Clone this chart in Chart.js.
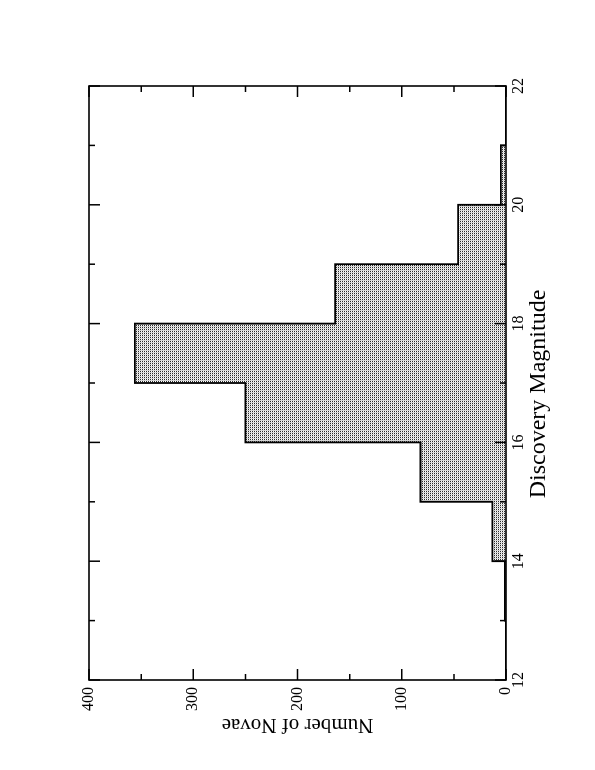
<!DOCTYPE html>
<html>
<head>
<meta charset="utf-8">
<script src="https://cdn.jsdelivr.net/npm/chart.js@4.4.1/dist/chart.umd.min.js"></script>
<style>
html, body { margin: 0; padding: 0; background: #fff; overflow: hidden; width: 595px; height: 770px; }
#giro { position: absolute; left: 0; top: 0; width: 770px; height: 595px; transform-origin: 0 0; transform: translate(0, 770px) rotate(-90deg); }
</style>
</head>
<body>
<div id="giro"><canvas id="grafico" width="770" height="595"></canvas></div>
<script>
// histograma: borde inferior de cada intervalo de magnitud y numero de novas
const magnitudes = [12, 13, 14, 15, 16, 17, 18, 19, 20, 21];
const novas = [0, 1, 13, 82, 250, 356, 164, 46, 5, 0];
const magFinal = 22;
const ticksMag = [12, 14, 16, 18, 20, 22];
const ticksNovas = [0, 100, 200, 300, 400];
const marcasMenoresMag = [13, 15, 17, 19, 21];
const marcasMenoresNovas = [50, 150, 250, 350];
const tituloX = 'Discovery Magnitude';
const tituloY = 'Number of Novae';

const fuente = "'Liberation Serif', 'Times New Roman', serif";

function tramaPuntos() {
    let c = document.createElement('canvas'); c.width = 2; c.height = 4;
    let g = c.getContext('2d');
    g.fillStyle = '#d4d4d4'; g.fillRect(0, 0, 2, 4);
    g.fillStyle = '#ffffff'; g.fillRect(0, 0, 1, 4);
    g.fillStyle = '#2a2a2a'; g.fillRect(0, 0, 1, 1); g.fillRect(0, 2, 1, 1);
    return g.createPattern(c, 'repeat');
}

let puntos = magnitudes.map((m, i) => ({ x: m, y: novas[i] }));
puntos.push({ x: magFinal, y: 0 });

// marco, marcas hacia dentro en los cuatro lados y titulo del eje de magnitud
const marcoYMarcas = {
    id: 'marcoYMarcas',
    afterDatasetsDraw(chart) {
        const { ctx, chartArea: a, scales: { x, y } } = chart;
        ctx.save();
        ctx.strokeStyle = '#000'; ctx.lineWidth = 1.5;
        ctx.beginPath();
        let marcaX = (v, largo) => { let px = x.getPixelForValue(v); ctx.moveTo(px, a.bottom); ctx.lineTo(px, a.bottom - largo); ctx.moveTo(px, a.top); ctx.lineTo(px, a.top + largo); };
        let marcaY = (v, largo) => { let py = y.getPixelForValue(v); ctx.moveTo(a.left, py); ctx.lineTo(a.left + largo, py); ctx.moveTo(a.right, py); ctx.lineTo(a.right - largo, py); };
        ticksMag.forEach(v => marcaX(v, 11)); marcasMenoresMag.forEach(v => marcaX(v, 6));
        ticksNovas.forEach(v => marcaY(v, 11)); marcasMenoresNovas.forEach(v => marcaY(v, 6));
        ctx.stroke();
        ctx.lineWidth = 1.6;
        ctx.strokeRect(a.left, a.top, a.right - a.left, a.bottom - a.top);

        ctx.fillStyle = '#000';
        ctx.font = '24px ' + fuente;
        ctx.textAlign = 'center'; ctx.textBaseline = 'alphabetic';
        ctx.fillText(tituloX, (a.left + a.right) / 2 - 11, a.bottom + 39);
        ctx.restore();
    }
};

let ctx = document.getElementById('grafico').getContext('2d');
new Chart(ctx, {
    type: 'line',
    data: {
        datasets: [{
            data: puntos,
            stepped: true,
            borderColor: '#000',
            borderWidth: 1.8,
            backgroundColor: tramaPuntos(),
            fill: 'origin',
            pointRadius: 0,
            tension: 0
        }]
    },
    options: {
        responsive: false, animation: false, devicePixelRatio: 1,
        layout: { padding: { top: 89, right: 86, left: 0, bottom: 0 } },
        plugins: { legend: { display: false }, tooltip: { enabled: false } },
        scales: {
            x: {
                type: 'linear', min: 12, max: 22,
                afterBuildTicks: s => { s.ticks = ticksMag.map(v => ({ value: v })); },
                afterFit: s => { s.height = 89; },
                grid: { display: false, drawTicks: false }, border: { display: false },
                ticks: { color: '#000', padding: 3, maxRotation: 0, font: { family: fuente, size: 16 } }
            },
            y: {
                type: 'linear', min: 0, max: 400,
                afterBuildTicks: s => { s.ticks = ticksNovas.map(v => ({ value: v })); },
                afterFit: s => { s.width = 90; },
                grid: { display: false, drawTicks: false }, border: { display: false },
                ticks: { color: '#000', padding: 7, font: { family: fuente, size: 16 } },
                title: { display: true, text: tituloY, color: '#000', padding: { top: 33, bottom: 0 }, font: { family: fuente, size: 21 } }
            }
        }
    },
    plugins: [marcoYMarcas]
});
</script>
</body>
</html>
